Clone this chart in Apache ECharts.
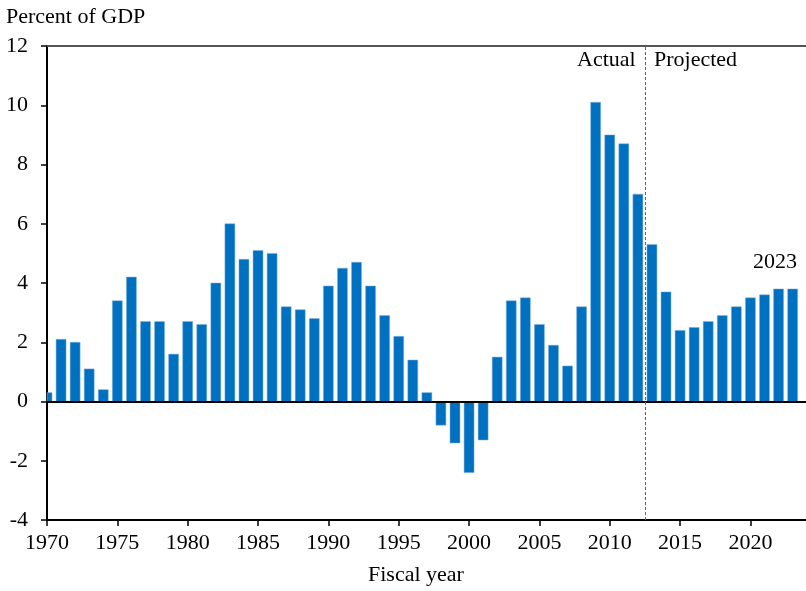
<!DOCTYPE html>
<html>
<head>
<meta charset="utf-8">
<script src="https://cdn.jsdelivr.net/npm/echarts@6/dist/echarts.min.js"></script>
<style>
  html, body { margin: 0; padding: 0; background: #fff; }
  #chart { width: 806px; height: 591px; }
</style>
</head>
<body>
<div id="chart"></div>
<script>
  // deficit, percent of GDP (1970-2012 actual, 2013-2023 projected)
  var years = [1970, 1971, 1972, 1973, 1974, 1975, 1976, 1977, 1978, 1979,
               1980, 1981, 1982, 1983, 1984, 1985, 1986, 1987, 1988, 1989,
               1990, 1991, 1992, 1993, 1994, 1995, 1996, 1997, 1998, 1999,
               2000, 2001, 2002, 2003, 2004, 2005, 2006, 2007, 2008, 2009,
               2010, 2011, 2012, 2013, 2014, 2015, 2016, 2017, 2018, 2019,
               2020, 2021, 2022, 2023]
  var deficit = [0.3, 2.1, 2.0, 1.1, 0.4, 3.4, 4.2, 2.7, 2.7, 1.6,
                 2.7, 2.6, 4.0, 6.0, 4.8, 5.1, 5.0, 3.2, 3.1, 2.8,
                 3.9, 4.5, 4.7, 3.9, 2.9, 2.2, 1.4, 0.3, -0.8, -1.4,
                 -2.4, -1.3, 1.5, 3.4, 3.5, 2.6, 1.9, 1.2, 3.2, 10.1,
                 9.0, 8.7, 7.0, 5.3, 3.7, 2.4, 2.5, 2.7, 2.9, 3.2,
                 3.5, 3.6, 3.8, 3.8]
  var xTicks = [1970, 1975, 1980, 1985, 1990, 1995, 2000, 2005, 2010, 2015, 2020]
  var splitYear = 2012.5

  var font = 'Liberation Serif'
  var chart = echarts.init(document.getElementById('chart'))

  // bars drawn as custom rects so the 1970 bar gets cut at the y axis
  function renderBar(params, api) {
    var yr = api.value(0)
    var p1 = api.coord([yr - 0.355, api.value(1)])
    var p2 = api.coord([yr + 0.355, 0])
    var rect = echarts.graphic.clipRectByRect({
      x: p1[0],
      y: Math.min(p1[1], p2[1]),
      width: p2[0] - p1[0],
      height: Math.abs(p2[1] - p1[1])
    }, {
      x: params.coordSys.x,
      y: params.coordSys.y,
      width: params.coordSys.width,
      height: params.coordSys.height
    })
    return rect && {
      type: 'rect',
      shape: rect,
      style: { fill: '#0070c0', stroke: '#7fb3dd', lineWidth: 0.5 }
    }
  }

  var option = {
    animation: false,
    grid: { left: 47, right: 0, top: 46, bottom: 71 },
    xAxis: [{
      type: 'value',
      min: 1970,
      max: 2023.95,
      axisLine: { onZero: false, lineStyle: { color: '#000', width: 2 } },
      axisTick: { customValues: xTicks, length: 6, lineStyle: { color: '#000', width: 1.5 } },
      axisLabel: {
        customValues: xTicks,
        formatter: function (v) { return String(v) },
        margin: 12,
        fontFamily: font,
        fontSize: 22,
        color: '#000'
      },
      splitLine: { show: false }
    }, {
      type: 'value',
      position: 'top',
      min: 1970,
      max: 2023.95,
      axisLine: { show: true, onZero: false, lineStyle: { color: '#555', width: 2 } },
      axisTick: { show: false },
      axisLabel: { show: false },
      splitLine: { show: false }
    }],
    yAxis: {
      type: 'value',
      min: -4,
      max: 12,
      interval: 2,
      axisLine: { show: true, onZero: false, lineStyle: { color: '#000', width: 2 } },
      axisTick: { show: true, length: 6, lineStyle: { color: '#000', width: 1.5 } },
      axisLabel: { margin: 19, fontFamily: font, fontSize: 22, color: '#000' },
      splitLine: { show: false }
    },
    series: [{
      type: 'custom',
      renderItem: renderBar,
      encode: { x: 0, y: 1 },
      data: years.map(function (y, i) { return [y, deficit[i]] }),
      markLine: {
        silent: true,
        symbol: 'none',
        label: { show: false },
        data: [
          { yAxis: 0, lineStyle: { color: '#000', width: 2, type: 'solid' } },
          { xAxis: splitYear, lineStyle: { color: '#666', width: 1, type: [3, 2] } }
        ]
      }
    }],
    graphic: [
      { type: 'text', left: 6, top: 6,
        style: { text: 'Percent of GDP', font: '22px "Liberation Serif"', fill: '#000' } },
      { type: 'text', left: 577, top: 49,
        style: { text: 'Actual', font: '22px "Liberation Serif"', fill: '#000' } },
      { type: 'text', left: 654, top: 49,
        style: { text: 'Projected', font: '22px "Liberation Serif"', fill: '#000' } },
      { type: 'text', left: 753, top: 251,
        style: { text: '2023', font: '22px "Liberation Serif"', fill: '#000' } },
      { type: 'text', left: 368, top: 564,
        style: { text: 'Fiscal year', font: '22px "Liberation Serif"', fill: '#000' } }
    ]
  }

  chart.setOption(option)
</script>
</body>
</html>
